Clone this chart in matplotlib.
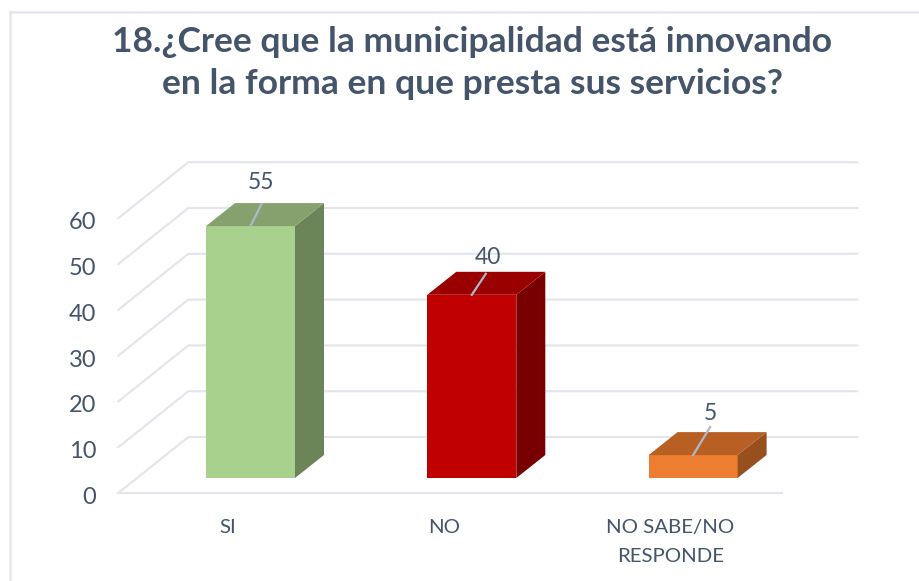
import matplotlib
matplotlib.use("Agg")
import matplotlib.pyplot as plt
from matplotlib.patches import Polygon, Rectangle

categories = ["SI", "NO", "NO SABE/NO\nRESPONDE"]
values = [55, 40, 5]
yticks = [0, 10, 20, 30, 40, 50, 60]
front_colors = ["#A9D18E", "#C00000", "#ED7D31"]
top_colors = ["#87A16E", "#9A0000", "#B85F24"]
side_colors = ["#6B8558", "#780000", "#96501E"]
title = "18.¿Cree que la municipalidad está innovando\nen la forma en que presta sus servicios?"

W, H = 919, 581
TEXT = "#44546A"
GRID = "#E2E5EC"
plt.rcParams["font.family"] = ["Lato", "DejaVu Sans"]
fig = plt.figure(figsize=(W / 100, H / 100), dpi=100, facecolor="white")
ax = fig.add_axes([0, 0, 1, 1])
ax.axis("off")
X0, STEP, Y0, UNIT = 229.0, 221.3, 493.0, 4.58
ax.set_xlim((0 - X0) / STEP, (W - X0) / STEP)
ax.set_ylim((Y0 - H) / UNIT, Y0 / UNIT)

DX = 70 / STEP
DY = 56 / UNIT
xl, xr = -0.5, 2.5

fig.add_artist(plt.Line2D([9.5 / W, 9.5 / W], [0, 1 - 11.5 / H], color="#E4E8EE", lw=1.8))
fig.add_artist(plt.Line2D([9.5 / W, 1], [1 - 11.5 / H] * 2, color="#E4E8EE", lw=1.8))

for t in yticks:
    ax.plot([xl, xl + DX, xr + DX + 5 / STEP], [t, t + DY, t + DY], color=GRID, lw=1.5,
            solid_joinstyle="round", zorder=1)
ax.plot([xl, xr], [0, 0], color=GRID, lw=1.5, zorder=1)

BW = 89 / STEP
bx = 21.5 / STEP
dx = 29 / STEP
dy = 23 / UNIT
b = 15 / UNIT
leader_dx = [11, 14, 17]
leader_dy = [22, 21, 28]
label_dx = [11, 16, 17]
label_lift = [33, 27, 31]
for i, v in enumerate(values):
    l = i + bx - BW / 2
    r = l + BW
    t = v + b
    ax.add_patch(Rectangle((l, b), BW, v, facecolor=front_colors[i], edgecolor="none", zorder=3))
    ax.add_patch(Polygon([(r, b), (r + dx, b + dy), (r + dx, t + dy), (r, t)],
                         facecolor=side_colors[i], edgecolor="none", zorder=3))
    ax.add_patch(Polygon([(l, t), (l + dx, t + dy), (r + dx, t + dy), (r, t)],
                         facecolor=top_colors[i], edgecolor="none", zorder=3))
    cx = (l + r) / 2
    ax.plot([cx, cx + leader_dx[i] / STEP], [t, t + leader_dy[i] / UNIT], color="#ADB9CA", lw=1.6, zorder=4)
    ax.text(cx + label_dx[i] / STEP, t + label_lift[i] / UNIT, str(v), ha="center", va="bottom",
            fontsize=16.5, color=TEXT, zorder=5)

for t in yticks:
    ax.text(xl - 22 / STEP, t - 2.5 / UNIT, str(t), ha="right", va="center_baseline", fontsize=17, color=TEXT)
cat_shift = [-1, -6, -1]
for i, c in enumerate(categories):
    for k, line in enumerate(c.split("\n")):
        ax.text(i + cat_shift[i] / STEP, -(526 + 29.5 * k - Y0) / UNIT, line, ha="center",
                va="center_baseline", fontsize=14.7, color=TEXT)

ax.text(472 / W, 1 - 63 / H, title, transform=ax.transAxes, ha="center", va="center",
        fontsize=25.5, fontweight="bold", color=TEXT, linespacing=1.4)

fig.savefig("out.png", dpi=100, facecolor="white")
